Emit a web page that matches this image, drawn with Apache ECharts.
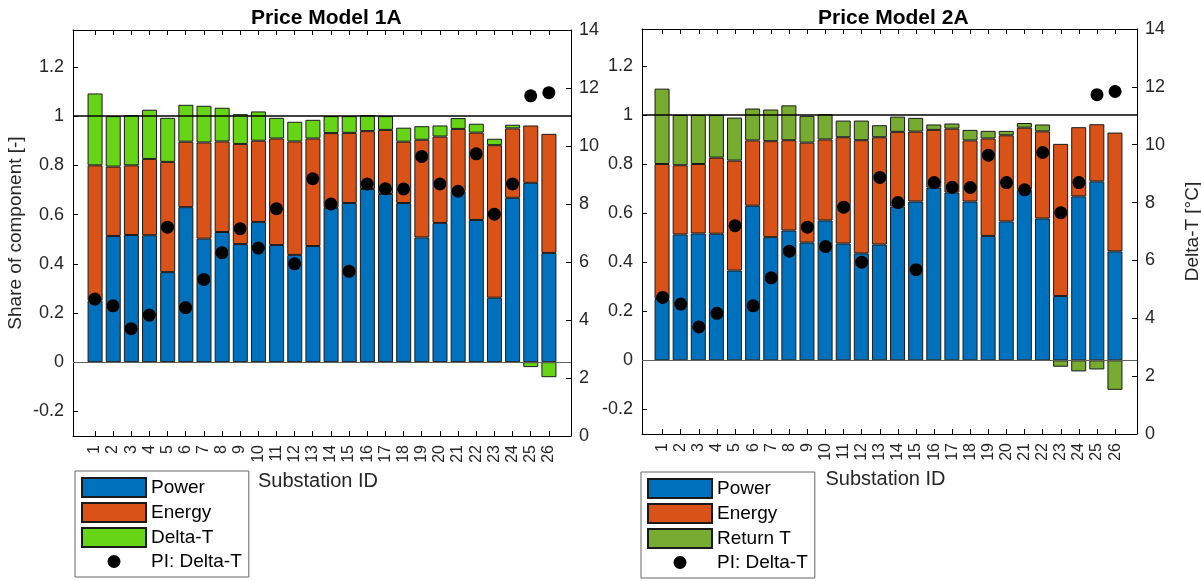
<!DOCTYPE html>
<html>
<head>
<meta charset="utf-8">
<title>Price models</title>
<script src="https://cdn.jsdelivr.net/npm/echarts@6.0.0/dist/echarts.min.js"></script>
<style>
  html, body { margin: 0; padding: 0; background: #fff; }
  #chart { width: 1201px; height: 581px; }
</style>
</head>
<body>
<div id="chart"></div>
<script>
// substation ids on the x axis
const substations = ['1', '2', '3', '4', '5', '6', '7', '8', '9', '10', '11', '12', '13',
    '14', '15', '16', '17', '18', '19', '20', '21', '22', '23', '24', '25', '26'];

// share of each component (stacked)
const power = [0.25, 0.513, 0.517, 0.516, 0.366, 0.63, 0.502, 0.529, 0.48, 0.57, 0.476, 0.436, 0.472,
    0.627, 0.647, 0.704, 0.684, 0.647, 0.507, 0.566, 0.695, 0.578, 0.262, 0.668, 0.729, 0.444];
const energy = [0.55, 0.282, 0.283, 0.31, 0.448, 0.266, 0.391, 0.368, 0.407, 0.33, 0.433, 0.461, 0.437,
    0.304, 0.285, 0.235, 0.26, 0.249, 0.397, 0.351, 0.253, 0.355, 0.62, 0.282, 0.233, 0.484];
const deltaT = [0.292, 0.205, 0.204, 0.2, 0.179, 0.15, 0.149, 0.137, 0.121, 0.119, 0.084, 0.08, 0.076,
    0.069, 0.068, 0.065, 0.056, 0.057, 0.055, 0.045, 0.044, 0.036, 0.026, 0.015, -0.02, -0.061];
const returnT = [0.307, 0.205, 0.2, 0.174, 0.175, 0.13, 0.129, 0.142, 0.109, 0.103, 0.068, 0.08, 0.049,
    0.062, 0.056, 0.022, 0.021, 0.043, 0.031, 0.018, 0.019, 0.028, -0.026, -0.045, -0.037, -0.12];

// PI: Delta-T in degC (right axis)
const piDeltaT = [4.72, 4.49, 3.70, 4.17, 7.20, 4.43, 5.40, 6.32, 7.15, 6.48, 7.84, 5.94, 8.87,
    8.0, 5.68, 8.69, 8.53, 8.52, 9.64, 8.69, 8.44, 9.73, 7.65, 8.69, 11.73, 11.84];

// tick labels
const shareTicks = [-0.2, 0, 0.2, 0.4, 0.6, 0.8, 1, 1.2];
const idTicks = substations.map(Number);

const font = 'Liberation Sans, Arial, Helvetica, sans-serif';
const textColor = '#262626';
const dotIcon = 'path://M0,0L0,0M64,19L64,19M38.5,9.5A6.5,6.5,0,1,1,25.5,9.5A6.5,6.5,0,1,1,38.5,9.5Z';

var chart = echarts.init(document.getElementById('chart'));

var grid = [], xAxis = [], yAxis = [], series = [], legend = [], title = [];

function addPanel(k, p) {
    // frame grid (box, ticks, labels, dots, reference lines)
    grid.push({ left: p.left, top: p.top, width: p.width, height: p.height, outerBoundsMode: 'none' });
    // bar grid (only the category band)
    grid.push({ left: p.barLeft, top: p.top, width: p.barWidth, height: p.height, outerBoundsMode: 'none' });

    var g0 = 2 * k, g1 = 2 * k + 1;
    var ax = 3 * k;

    xAxis.push({
        type: 'value', gridIndex: g0, position: 'bottom', min: p.xMin, max: p.xMax,
        name: 'Substation ID', nameLocation: 'middle', nameGap: 35,
        nameTextStyle: { fontFamily: font, fontSize: 20, color: textColor, padding: [0, 8, 0, 0] },
        axisLine: { show: true, onZero: false, lineStyle: { color: '#000', width: 1 } },
        axisTick: { show: true, inside: true, length: 5, customValues: idTicks, lineStyle: { color: '#000' } },
        axisLabel: {
            customValues: idTicks, rotate: 90, margin: 9,
            fontFamily: font, fontSize: 16, color: textColor
        },
        splitLine: { show: false }
    });
    xAxis.push({
        type: 'value', gridIndex: g0, position: 'top', min: p.xMin, max: p.xMax,
        axisLine: { show: true, onZero: false, lineStyle: { color: '#000', width: 1 } },
        axisTick: { show: true, inside: true, length: 5, customValues: idTicks, lineStyle: { color: '#000' } },
        axisLabel: { show: false },
        splitLine: { show: false }
    });
    xAxis.push({
        type: 'category', gridIndex: g1, data: substations, show: false, boundaryGap: true
    });

    yAxis.push({
        type: 'value', gridIndex: g0, position: 'left', min: -0.3, max: 1.35,
        name: p.leftName, nameLocation: 'middle', nameGap: 48,
        nameTextStyle: { fontFamily: font, fontSize: 19, color: textColor },
        axisLine: { show: true, onZero: false, lineStyle: { color: '#000', width: 1 } },
        axisTick: { show: true, inside: true, length: 5, customValues: shareTicks, lineStyle: { color: '#000' } },
        axisLabel: {
            customValues: shareTicks, margin: 9, fontFamily: font, fontSize: 18, color: textColor,
            formatter: function (v) { return String(v); }
        },
        splitLine: { show: false }
    });
    yAxis.push({
        type: 'value', gridIndex: g0, position: 'right', min: 0, max: 14, interval: 2,
        name: p.rightName, nameLocation: 'middle', nameGap: 46,
        nameTextStyle: { fontFamily: font, fontSize: 19, color: textColor },
        axisLine: { show: true, onZero: false, lineStyle: { color: '#000', width: 1 } },
        axisTick: { show: true, inside: true, length: 5, lineStyle: { color: '#000' } },
        axisLabel: { margin: 8, fontFamily: font, fontSize: 18, color: textColor },
        splitLine: { show: false }
    });
    yAxis.push({
        type: 'value', gridIndex: g1, min: -0.3, max: 1.35, show: false
    });

    var edge = { borderColor: '#1a1a1a', borderWidth: 1 };
    var stack = 'share' + k;
    series.push({
        name: 'Power', type: 'bar', xAxisIndex: ax + 2, yAxisIndex: ax + 2, stack: stack,
        barWidth: 15, data: power, itemStyle: Object.assign({ color: '#0072BD' }, edge)
    });
    series.push({
        name: 'Energy', type: 'bar', xAxisIndex: ax + 2, yAxisIndex: ax + 2, stack: stack,
        barWidth: 15, data: energy, itemStyle: Object.assign({ color: '#D95319' }, edge)
    });
    series.push({
        name: p.greenName, type: 'bar', xAxisIndex: ax + 2, yAxisIndex: ax + 2, stack: stack,
        barWidth: 15, data: p.greenData, itemStyle: Object.assign({ color: p.greenColor }, edge)
    });
    // reference lines at 1 and 0
    series.push({
        name: 'ref' + k, type: 'line', xAxisIndex: ax, yAxisIndex: ax, data: [], z: 4,
        markLine: {
            silent: true, symbol: 'none', label: { show: false },
            data: [
                { yAxis: 1, lineStyle: { color: '#000', width: 1.6, type: 'solid' } },
                { yAxis: 0, lineStyle: { color: '#606060', width: 1, type: 'solid' } }
            ]
        }
    });
    series.push({
        name: 'PI: Delta-T', type: 'scatter', xAxisIndex: ax, yAxisIndex: ax + 1, z: 5,
        symbol: 'circle', symbolSize: 13, itemStyle: { color: '#000', opacity: 1 },
        data: idTicks.map(function (x, i) { return [x, piDeltaT[i]]; })
    });

    legend.push({
        left: p.legendLeft, top: p.legendTop, orient: 'vertical', selectedMode: false,
        padding: [6, 7, 6, 6], itemWidth: 64, itemHeight: 19, itemGap: 4,
        backgroundColor: '#fff', borderColor: '#666', borderWidth: 1, borderRadius: 0,
        textStyle: { fontFamily: font, fontSize: 19, lineHeight: 19, color: '#000' },
        data: [
            { name: 'Power', icon: 'rect' },
            { name: 'Energy', icon: 'rect' },
            { name: p.greenName, icon: 'rect' },
            { name: 'PI: Delta-T', icon: dotIcon }
        ]
    });

    title.push({
        text: p.title, left: p.titleLeft, top: 3,
        textStyle: { fontFamily: font, fontSize: 21, fontWeight: 'bold', color: '#000' }
    });
}

addPanel(0, {
    left: 73, top: 30, width: 498, height: 406,
    barLeft: 86, barWidth: 472, xMin: -0.2, xMax: 27.22,
    leftName: 'Share of component [-]', rightName: '',
    greenName: 'Delta-T', greenData: deltaT, greenColor: '#66D516',
    legendLeft: 75, legendTop: 471, title: 'Price Model 1A', titleLeft: 246
});
addPanel(1, {
    left: 642, top: 29, width: 495, height: 405,
    barLeft: 653, barWidth: 471, xMin: -0.14, xMax: 27.21,
    leftName: '', rightName: 'Delta-T [°C]',
    greenName: 'Return T', greenData: returnT, greenColor: '#77AC30',
    legendLeft: 641, legendTop: 472, title: 'Price Model 2A', titleLeft: 813
});

var option = {
    animation: false,
    backgroundColor: '#fff',
    title: title,
    legend: legend,
    grid: grid,
    xAxis: xAxis,
    yAxis: yAxis,
    series: series
};

option && chart.setOption(option);
</script>
</body>
</html>
